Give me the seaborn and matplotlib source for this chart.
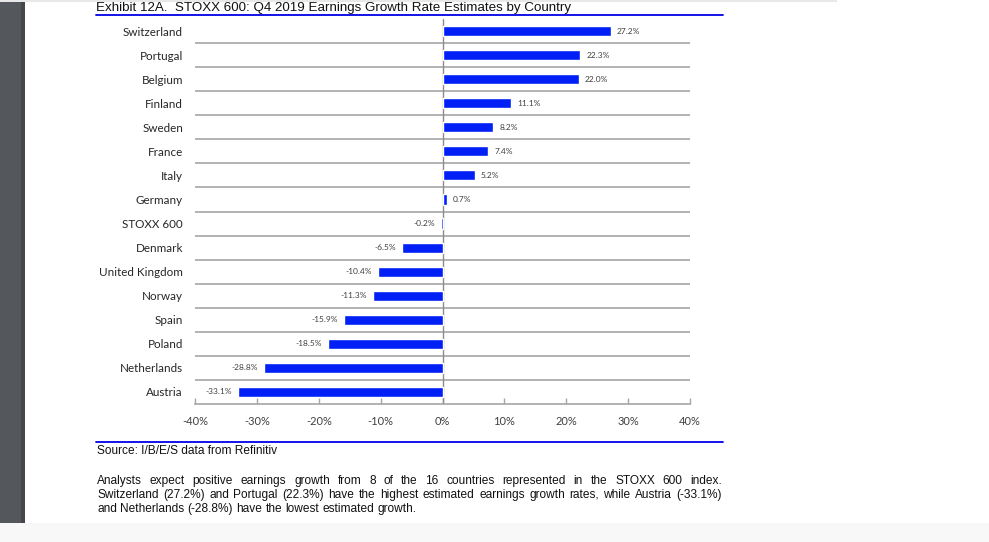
import numpy as np
import pandas as pd
import matplotlib
matplotlib.use("Agg")
import matplotlib.pyplot as plt
import seaborn as sns
from matplotlib.patches import Rectangle
from matplotlib.lines import Line2D

countries = ["Switzerland", "Portugal", "Belgium", "Finland", "Sweden", "France", "Italy",
             "Germany", "STOXX 600", "Denmark", "United Kingdom", "Norway", "Spain",
             "Poland", "Netherlands", "Austria"]
growth = [27.2, 22.3, 22.0, 11.1, 8.2, 7.4, 5.2, 0.7, -0.2, -6.5, -10.4, -11.3, -15.9,
          -18.5, -28.8, -33.1]
x_ticks = [-40, -30, -20, -10, 0, 10, 20, 30, 40]

title = "Exhibit 12A.  STOXX 600: Q4 2019 Earnings Growth Rate Estimates by Country"
source = "Source: I/B/E/S data from Refinitiv"
para = ["Analysts expect positive earnings growth from 8 of the 16 countries represented in the STOXX 600 index.",
        "Switzerland (27.2%) and Portugal (22.3%) have the highest estimated earnings growth rates, while Austria (-33.1%)",
        "and Netherlands (-28.8%) have the lowest estimated growth."]

df = pd.DataFrame({"Country": countries, "Growth": growth})

W, H = 989, 542
sns.set_theme(style="white")
plt.rcParams['font.family'] = ['Lato', 'DejaVu Sans']

fig = plt.figure(figsize=(W / 100, H / 100), dpi=100)
fig.patch.set_facecolor("white")

# page decoration
fig.add_artist(Rectangle((0, 1 - 523 / H), 21 / W, 523 / H, transform=fig.transFigure, color="#54575b", lw=0))
fig.add_artist(Rectangle((21 / W, 1 - 523 / H), 4 / W, 523 / H, transform=fig.transFigure, color="#45474a", lw=0))
fig.add_artist(Rectangle((0, 0), 1, 19 / H, transform=fig.transFigure, color="#f8f8f8", lw=0))
fig.add_artist(Rectangle((0, 1 - 2 / H), 837 / W, 2 / H, transform=fig.transFigure, color="#e8e8e8", lw=0))

ax = fig.add_axes([195 / W, 1 - 404 / H, (690 - 195) / W, (404 - 19) / H])
sns.barplot(data=df, x="Growth", y="Country", orient="h", color="#0020f5", saturation=1,
            width=0.42, ax=ax, zorder=3)
ax.set_xlim(-40, 40)
ax.set_ylim(len(countries) - 0.5, -0.5)

for i in range(len(countries) - 1):
    ax.axhline(i + 0.5, color="#a6a6a6", lw=1.2, zorder=1)
ax.axvline(0, color="#8c8c8c", lw=1, zorder=2)

for s in ["top", "right", "left"]:
    ax.spines[s].set_visible(False)
ax.spines["bottom"].set_color("#a6a6a6")
ax.spines["bottom"].set_linewidth(1.2)

ax.set_xticks(x_ticks)
ax.set_xticklabels([f"{t}%" for t in x_ticks])
ax.tick_params(axis="x", direction="in", length=4, width=1, color="#a6a6a6", pad=8.5,
               labelsize=8, labelcolor="#404040", bottom=True)
ax.tick_params(axis="y", length=0, pad=8.6, labelsize=8.4, labelcolor="#262626")
ax.set_xlabel("")
ax.set_ylabel("")

for i, v in enumerate(growth):
    ax.annotate(f"{v:.1f}%", (v, i), xytext=(4.3 if v >= 0 else -4.3, 0), textcoords="offset points",
                ha="left" if v >= 0 else "right", va="center", fontsize=6, color="#404040")

arial = "Liberation Sans"
fig.text(96 / W, 1 - 8.5 / H, title, fontsize=9.6, family=arial, va="center", color="#111111")
fig.add_artist(Line2D([96 / W, 723 / W], [1 - 15 / H, 1 - 15 / H], transform=fig.transFigure,
                      color="#0000e6", lw=1.3))
fig.add_artist(Line2D([96 / W, 723 / W], [1 - 442 / H, 1 - 442 / H], transform=fig.transFigure,
                      color="#0000e6", lw=1.3))
fig.text(97 / W, 1 - 451 / H, source, fontsize=8.6, family=arial, va="center", color="#111111")

# justified paragraph
renderer = fig.canvas.get_renderer()
x0, x1 = 97, 722
for k, line in enumerate(para):
    y = 1 - (481 + 14 * k) / H
    words = line.split()
    texts = [fig.text(0, y, w, fontsize=8.6, family=arial, va="center", color="#111111") for w in words]
    widths = [t.get_window_extent(renderer).width for t in texts]
    if k < len(para) - 1:
        gap = (x1 - x0 - sum(widths)) / (len(words) - 1)
    else:
        gap = fig.text(0, 0, " ", fontsize=8.6, family=arial).get_window_extent(renderer).width
    x = x0
    for t, w in zip(texts, widths):
        t.set_x(x / W)
        x += w + gap

fig.savefig("out.png", dpi=100)
